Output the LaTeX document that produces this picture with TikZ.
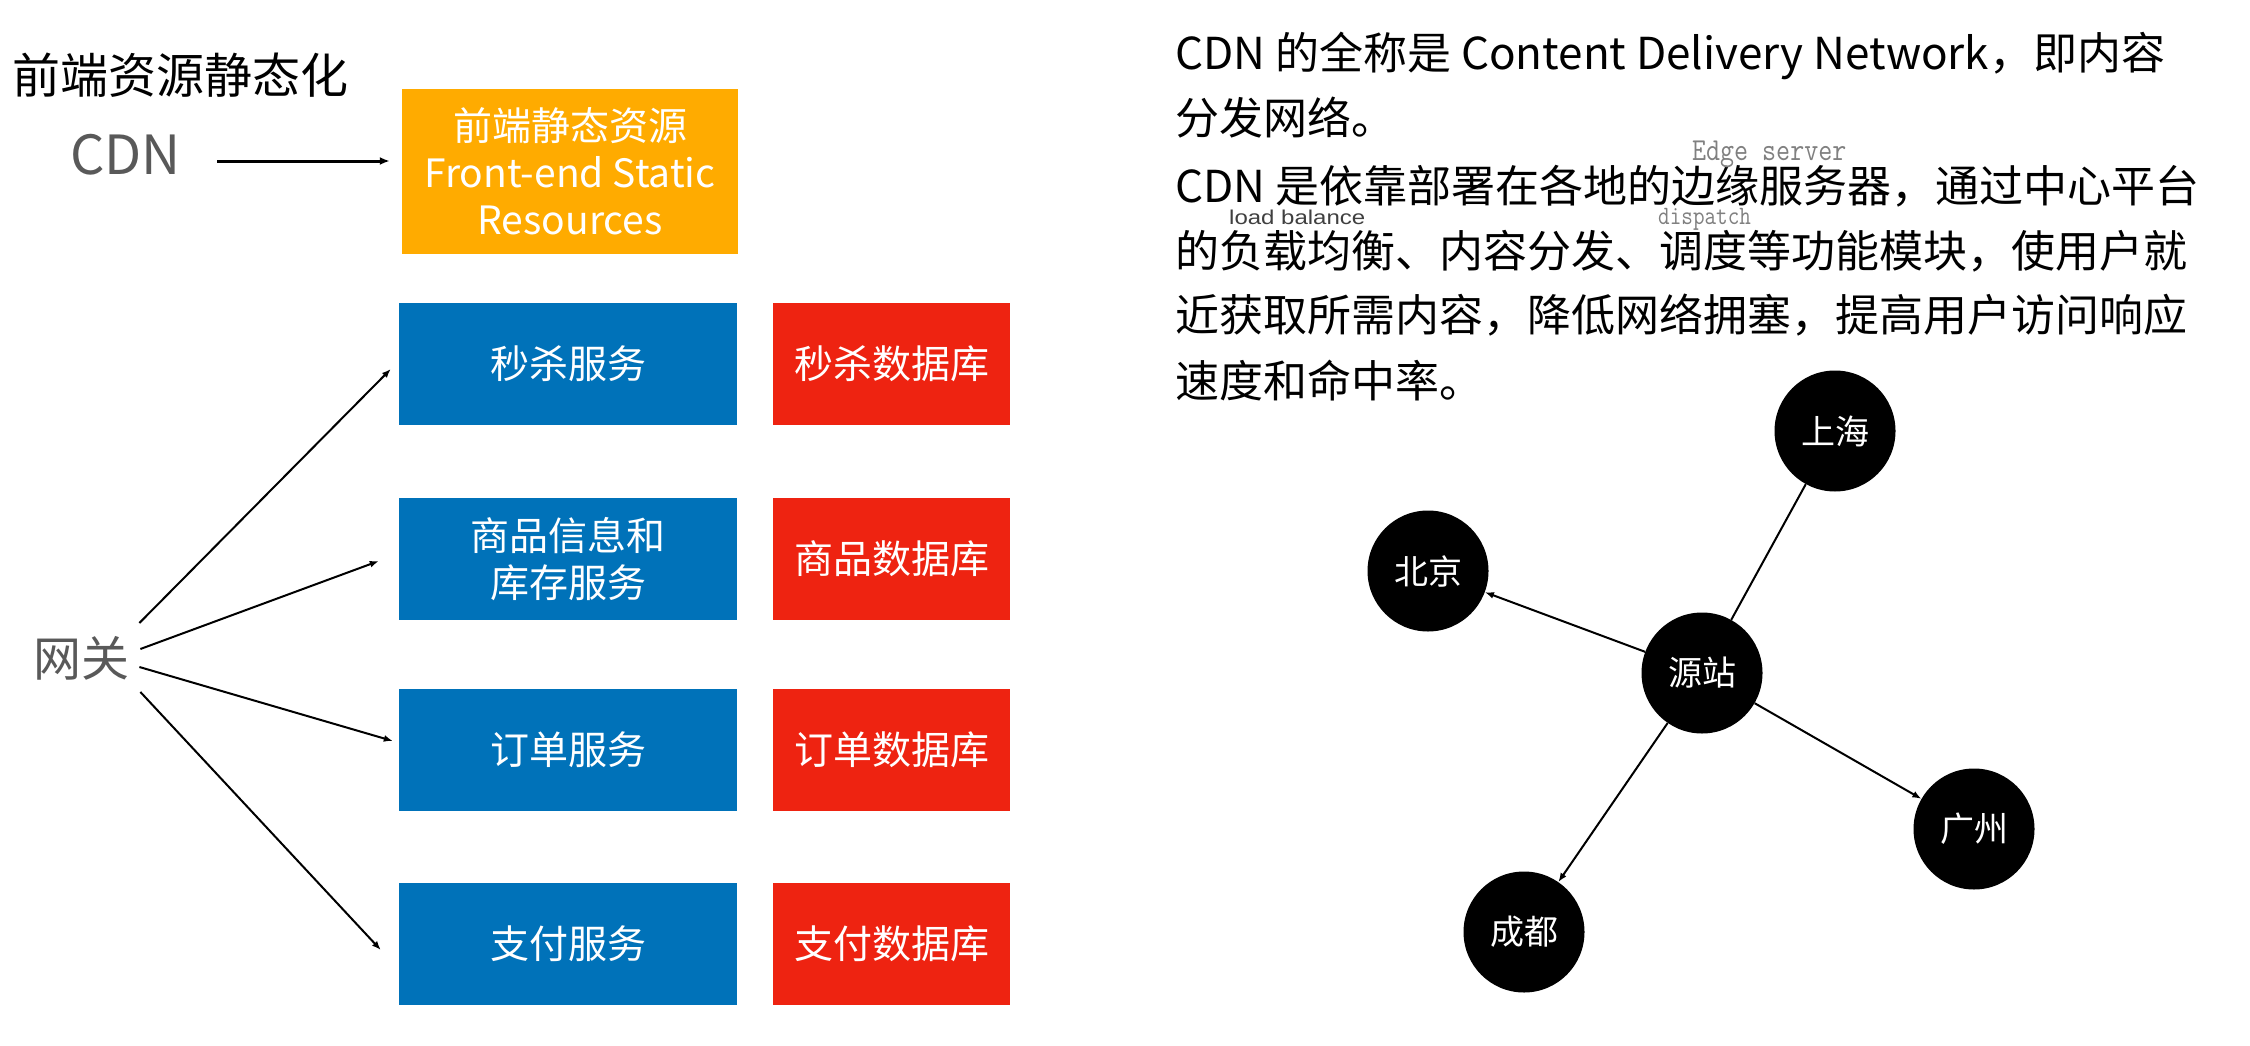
\documentclass[tikz,border=0pt]{standalone}
\usepackage{fontspec}
\setmainfont{Noto Sans CJK SC}
\newfontfamily\monofam[FakeStretch=0.85]{Latin Modern Mono}
\newfontfamily\arialfam[FakeStretch=1.2]{Liberation Sans}
\usetikzlibrary{arrows.meta,calc}
\definecolor{orangebox}{HTML}{FFAB00}
\definecolor{bluebox}{HTML}{0072B9}
\definecolor{redbox}{HTML}{EE2311}
\definecolor{graytext}{HTML}{595959}
\definecolor{notegray}{HTML}{808080}
\definecolor{notedark}{HTML}{404040}
\newcommand\fsz[2]{\fontsize{#1}{#2}\selectfont}
\begin{document}
\begin{tikzpicture}[x=1pt,y=-1pt,
  svc/.style={fill=bluebox, text=white, minimum width=338pt, minimum height=122pt, inner sep=0pt, align=center, font=\fsz{39}{47}},
  db/.style={fill=redbox, text=white, minimum width=237pt, minimum height=122pt, inner sep=0pt, align=center, font=\fsz{39}{47}},
  city/.style={circle, fill=black, text=white, minimum size=121pt, inner sep=0pt, font=\fsz{34}{40}},
  para/.style={anchor=base west, inner sep=0pt, font=\fsz{44}{52}},
  arr/.style={-{Latex[length=9pt,width=7pt]}, line width=2pt},
  plainline/.style={line width=2pt},
  big/.style={anchor=base west, inner sep=0pt, font=\fsz{48}{56}}]
\fill[white] (0,0) rectangle (2250,1046);
\useasboundingbox (0,0) rectangle (2250,1046);

% left part
\node[big] (title) at (12,94) {前端资源静态化};
\node[anchor=base west, inner sep=0pt, text=graytext, font=\fsz{54}{62}] (cdn) at (70,174) {CDN};
\node[fill=orangebox, text=white, minimum width=336pt, minimum height=165pt, inner sep=0pt, align=center, font=\fsz{39}{47}] (fe) at (570,171.5) {前端静态资源\\Front-end Static\\Resources};
\draw[-{Latex[length=10pt,width=8pt]}, line width=3pt] ([xshift=36pt,yshift=13pt]cdn.base east) -- ([xshift=-12pt,yshift=10.5pt]fe.west);

\node[big, text=graytext] (gw) at (33,676) {网关};

\node[svc] (s1) at (568,364) {秒杀服务};
\node[db]  (d1) at (891.5,364) {秒杀数据库};
\node[svc] (s2) at (568,559) {商品信息和\\库存服务};
\node[db]  (d2) at (891.5,559) {商品数据库};
\node[svc] (s3) at (568,750) {订单服务};
\node[db]  (d3) at (891.5,750) {订单数据库};
\node[svc] (s4) at (568,944) {支付服务};
\node[db]  (d4) at (891.5,944) {支付数据库};

\draw[arr] ([xshift=10pt,yshift=53pt]gw.base east) -- ([xshift=-8pt,yshift=-5pt]s1.west);
\draw[arr] ([xshift=11pt,yshift=27pt]gw.base east) -- ([xshift=-20pt,yshift=-2pt]s2.west);
\draw[arr] ([xshift=10pt,yshift=9pt]gw.base east) -- ([xshift=-6pt,yshift=9pt]s3.west);
\draw[arr] ([xshift=11pt,yshift=-16pt]gw.base east) -- ([xshift=-18pt,yshift=-6pt]s4.west);

% right part
\node[para] (p1) at (1175,70) {CDN 的全称是 Content Delivery Network，即内容};
\node[para] (p2) at (1175,135) {分发网络。};
\node[para] (p3) at (1175,202) {CDN 是依靠部署在各地的边缘服务器，通过中心平台};
\node[para] (p4) at (1175,267) {的负载均衡、内容分发、调度等功能模块，使用户就};
\node[para] (p5) at (1175,331) {近获取所需内容，降低网络拥塞，提高用户访问响应};
\node[para] (p6) at (1175,397) {速度和命中率。};

\node[anchor=base west, inner sep=0pt, text=notegray, font=\monofam\fsz{32}{36}] (edge) at (1692,160) {Edge server};
\node[anchor=base west, inner sep=0pt, text=notegray, font=\monofam\fsz{26.5}{30}] (disp) at (1658,224) {dispatch};
\node[anchor=base west, inner sep=0pt, text=notedark, font=\arialfam\fsz{20}{24}] (lb) at (1229,224) {load balance};

\node[city] (sh) at (1835,431) {上海};
\node[city] (bj) at (1428,571) {北京};
\node[city] (yz) at (1702,673) {源站};
\node[city] (gz) at (1974,829) {广州};
\node[city] (cd) at (1524,932) {成都};

\draw[plainline] (yz) -- (sh);
\draw[arr] (yz) -- (bj);
\draw[arr] (yz) -- (gz);
\draw[arr] (yz) -- (cd);
\end{tikzpicture}
\end{document}
